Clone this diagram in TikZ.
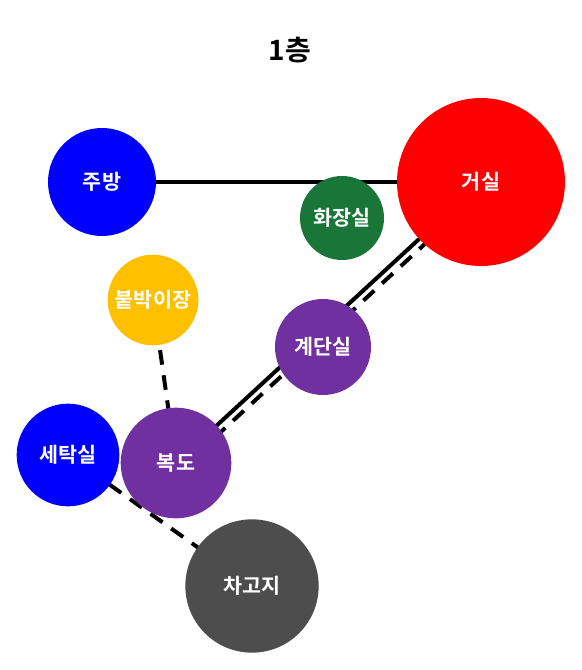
\documentclass[tikz,border=0pt]{standalone}
\usepackage{fontspec}
\newfontfamily\kr{Noto Sans CJK KR}[BoldFont={Noto Sans CJK KR Bold}]
\definecolor{cblue}{RGB}{0,0,255}
\definecolor{cred}{RGB}{255,0,0}
\definecolor{cgreen}{RGB}{26,118,56}
\definecolor{cgold}{RGB}{255,192,0}
\definecolor{cpurple}{RGB}{112,48,160}
\definecolor{cgray}{RGB}{77,77,77}
\tikzset{
  room/.style={circle, inner sep=0pt, text=white, font=\kr\bfseries\fontsize{15.5}{17}\selectfont},
  link/.style={line width=3pt, black},
  dlink/.style={line width=3pt, black, dash pattern=on 11pt off 8pt},
}
\begin{document}
\begin{tikzpicture}[x=0.75pt,y=-0.75pt]
\useasboundingbox (0,0) rectangle (581,670);
\fill[white] (0,0) rectangle (581,670);
\node[font=\kr\bfseries\fontsize{21}{24}\selectfont] (title) at (290,50) {1층};
% coordinates for room centres
\coordinate (pJ) at (102,182);
\coordinate (pG) at (481,182);
\coordinate (pH) at (342,218);
\coordinate (pB) at (153,300);
\coordinate (pS) at (323,347);
\coordinate (pT) at (68,455);
\coordinate (pD) at (176,463);
\coordinate (pC) at (252,586);
% connectors
\draw[link] (pJ) -- (pG);
\draw[link] (pG) -- (pD);
\draw[dlink, transform canvas={xshift=3.8pt,yshift=-4.2pt}] (pG) -- (pD);
\draw[dlink] (pB) -- (pD);
\draw[dlink] (pT) -- (pC);
% rooms
\node[room, fill=cblue, minimum size=81pt] (jubang) at (pJ) {주방};
\node[room, fill=cred, minimum size=126pt] (geosil) at (pG) {거실};
\node[room, fill=cgreen, minimum size=63pt] (hwajang) at (pH) {화장실};
\node[room, fill=cgold, minimum size=68pt] (bulbak) at (pB) {붙박이장};
\node[room, fill=cpurple, minimum size=72pt] (gyedan) at (pS) {계단실};
\node[room, fill=cblue, minimum size=77pt] (setak) at (pT) {세탁실};
\node[room, fill=cpurple, minimum size=83pt] (bokdo) at (pD) {복도};
\node[room, fill=cgray, minimum size=100pt] (chago) at (pC) {차고지};
\end{tikzpicture}
\end{document}
